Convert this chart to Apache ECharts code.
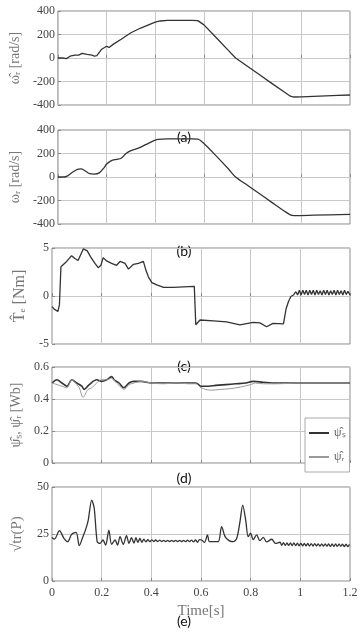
<!DOCTYPE html>
<html lang="en">
	<head>
		<meta charset="UTF-8" />
		<title>Simulation results</title>
		<script src="https://cdn.jsdelivr.net/npm/echarts@6.0.0/dist/echarts.min.js"></script>
		<style>
			html, body { margin: 0; padding: 0; background: #fff; }
		</style>
	</head>
	<body>
		<div id="main" style="width: 363px; height: 633px"></div>
		<script type="text/javascript">
			// (a) estimated speed
			const tSpeedEst = [0, 0.02, 0.035, 0.05, 0.07, 0.085, 0.1, 0.105, 0.12, 0.14, 0.15, 0.16, 0.18, 0.2, 0.21, 0.23, 0.26, 0.3, 0.34, 0.37, 0.4, 0.42, 0.45, 0.5, 0.55, 0.575, 0.6, 0.65, 0.7, 0.73, 0.78, 0.83, 0.88, 0.93, 0.955, 0.97, 1.0, 1.05, 1.1, 1.15, 1.2];
			const speedEst = [0, 0, -5, 15, 25, 25, 40, 50, 30, 25, 15, 20, 75, 100, 90, 120, 160, 215, 255, 280, 305, 315, 320, 320, 320, 318, 282, 175, 65, 0, -72, -145, -218, -290, -325, -332, -330, -326, -322, -318, -315];

			// (b) actual speed
			const tSpeed = [0, 0.025, 0.04, 0.06, 0.08, 0.095, 0.11, 0.13, 0.15, 0.17, 0.19, 0.2, 0.22, 0.24, 0.26, 0.28, 0.3, 0.33, 0.36, 0.39, 0.41, 0.45, 0.5, 0.55, 0.575, 0.6, 0.65, 0.7, 0.73, 0.78, 0.83, 0.88, 0.93, 0.955, 0.97, 1.05, 1.2];
			const speed = [0, 0, 10, 40, 65, 70, 55, 28, 25, 35, 80, 110, 140, 150, 160, 200, 225, 245, 275, 305, 320, 325, 325, 325, 322, 285, 180, 70, 0, -72, -145, -218, -290, -322, -328, -325, -318];

			// (c) electromagnetic torque
			const tTorque = [0, 0.01, 0.024, 0.03, 0.036, 0.059, 0.079, 0.092, 0.105, 0.126, 0.142, 0.155, 0.173, 0.186, 0.197, 0.206, 0.22, 0.24, 0.26, 0.274, 0.294, 0.308, 0.328, 0.348, 0.368, 0.378, 0.388, 0.402, 0.422, 0.449, 0.489, 0.53, 0.573, 0.579, 0.596, 0.65, 0.703, 0.757, 0.81, 0.837, 0.864, 0.89, 0.932, 0.943, 0.952, 0.962, 0.972, 0.982, 0.989, 0.996, 1.003, 1.01, 1.017, 1.024, 1.031, 1.038, 1.045, 1.052, 1.059, 1.066, 1.073, 1.08, 1.087, 1.094, 1.101, 1.108, 1.115, 1.122, 1.129, 1.136, 1.143, 1.15, 1.157, 1.164, 1.171, 1.178, 1.185, 1.192, 1.2];
			const torque = [-1.1, -1.4, -1.6, -0.9, 3.05, 3.6, 4.2, 3.9, 3.7, 4.9, 4.7, 4.1, 3.4, 2.95, 3.2, 4.0, 3.65, 3.4, 3.2, 3.6, 3.4, 2.8, 3.3, 3.4, 3.6, 2.7, 2.0, 1.4, 1.15, 0.9, 0.9, 0.95, 1.0, -3.0, -2.5, -2.6, -2.7, -3.0, -2.75, -2.8, -3.2, -2.85, -2.9, -1.3, -0.6, -0.05, 0.1, 0.45, 0.1, 0.6, 0.1, 0.6, 0.15, 0.6, 0.1, 0.6, 0.15, 0.6, 0.1, 0.6, 0.15, 0.55, 0.1, 0.6, 0.15, 0.6, 0.1, 0.55, 0.15, 0.6, 0.1, 0.6, 0.15, 0.55, 0.1, 0.6, 0.15, 0.5, 0.1];

			// (d) estimated fluxes
			const tFluxS = [0, 0.02, 0.04, 0.06, 0.08, 0.1, 0.12, 0.13, 0.15, 0.18, 0.2, 0.22, 0.24, 0.25, 0.27, 0.29, 0.31, 0.33, 0.36, 0.4, 0.45, 0.5, 0.55, 0.58, 0.6, 0.63, 0.66, 0.7, 0.74, 0.78, 0.81, 0.85, 0.9, 1.0, 1.1, 1.2];
			const fluxS = [0.5, 0.52, 0.5, 0.48, 0.52, 0.5, 0.48, 0.46, 0.49, 0.52, 0.51, 0.52, 0.54, 0.52, 0.5, 0.47, 0.5, 0.51, 0.51, 0.5, 0.5, 0.5, 0.5, 0.5, 0.48, 0.48, 0.485, 0.49, 0.495, 0.5, 0.51, 0.505, 0.5, 0.5, 0.5, 0.5];
			const tFluxR = [0, 0.02, 0.04, 0.06, 0.08, 0.1, 0.11, 0.125, 0.145, 0.16, 0.18, 0.2, 0.22, 0.24, 0.26, 0.28, 0.29, 0.31, 0.33, 0.36, 0.4, 0.45, 0.5, 0.55, 0.58, 0.6, 0.64, 0.68, 0.72, 0.76, 0.8, 0.82, 0.85, 0.9, 1.0, 1.1, 1.2];
			const fluxR = [0.5, 0.49, 0.48, 0.47, 0.52, 0.49, 0.47, 0.41, 0.46, 0.47, 0.5, 0.52, 0.52, 0.53, 0.5, 0.47, 0.46, 0.49, 0.5, 0.51, 0.5, 0.495, 0.5, 0.495, 0.495, 0.47, 0.455, 0.46, 0.465, 0.475, 0.49, 0.5, 0.495, 0.495, 0.5, 0.5, 0.5];

			// (e) sqrt of covariance trace
			const tTrace = [0, 0.01, 0.03, 0.048, 0.063, 0.079, 0.097, 0.11, 0.123, 0.137, 0.146, 0.16, 0.17, 0.182, 0.193, 0.205, 0.216, 0.229, 0.24, 0.254, 0.264, 0.274, 0.287, 0.3, 0.31, 0.32, 0.33, 0.338, 0.346, 0.354, 0.362, 0.37, 0.378, 0.386, 0.394, 0.402, 0.41, 0.418, 0.426, 0.434, 0.442, 0.45, 0.458, 0.466, 0.474, 0.482, 0.49, 0.498, 0.506, 0.514, 0.522, 0.53, 0.538, 0.546, 0.554, 0.562, 0.57, 0.578, 0.586, 0.594, 0.603, 0.614, 0.626, 0.634, 0.65, 0.67, 0.683, 0.697, 0.713, 0.73, 0.744, 0.757, 0.768, 0.78, 0.79, 0.8, 0.81, 0.824, 0.837, 0.851, 0.864, 0.885, 0.9, 0.918, 0.925, 0.932, 0.939, 0.946, 0.953, 0.96, 0.967, 0.974, 0.981, 0.988, 0.995, 1.002, 1.009, 1.016, 1.023, 1.03, 1.037, 1.044, 1.051, 1.058, 1.065, 1.072, 1.079, 1.086, 1.093, 1.1, 1.107, 1.114, 1.121, 1.128, 1.135, 1.142, 1.149, 1.156, 1.163, 1.17, 1.177, 1.184, 1.191, 1.198];
			const trace = [23.2, 22.3, 26.8, 22.7, 20.9, 24.8, 25.9, 18.8, 23.0, 28.0, 32.4, 43.0, 38.7, 20.9, 20.0, 21.8, 19.1, 27.1, 19.5, 21.8, 19.1, 23.6, 19.5, 24.1, 20.0, 23.0, 20.2, 23.0, 20.5, 22.6, 20.6, 22.3, 20.8, 22.0, 20.9, 21.9, 21.0, 21.8, 21.0, 21.7, 21.0, 21.6, 21.0, 21.6, 21.0, 21.6, 21.0, 21.6, 21.0, 21.6, 20.9, 21.6, 20.9, 21.7, 21.0, 21.7, 20.8, 21.8, 20.6, 22.0, 21.8, 20.5, 24.5, 20.9, 20.9, 21.0, 28.9, 23.6, 21.5, 20.9, 22.7, 31.6, 40.4, 32.4, 23.6, 25.4, 22.0, 24.5, 21.5, 23.2, 20.8, 22.2, 20.0, 20.6, 19.0, 20.4, 18.9, 20.3, 18.9, 20.2, 18.8, 20.2, 18.8, 20.1, 18.7, 20.1, 18.7, 20.0, 18.7, 20.0, 18.6, 19.9, 18.6, 19.9, 18.6, 19.8, 18.5, 19.8, 18.5, 19.8, 18.5, 19.7, 18.4, 19.7, 18.4, 19.7, 18.4, 19.6, 18.4, 19.6, 18.3, 19.6, 18.3, 19.5, 18.5];

			const zip = (t, v) => t.map((x, i) => [x, v[i]]);

			const tickFont = { fontFamily: "Liberation Serif", fontSize: 12, color: "#444" };
			const nameFont = { fontFamily: "Liberation Serif", fontSize: 14, color: "#777" };

			const grids = [
				{ left: 52, right: 13, top: 11, height: 94 },
				{ left: 52, right: 13, top: 130, height: 94 },
				{ left: 52, right: 13, top: 248, height: 96 },
				{ left: 52, right: 13, top: 367, height: 96 },
				{ left: 52, right: 13, top: 487, height: 94 },
			].map((g) => ({ ...g, show: true, borderColor: "#888", borderWidth: 1 }));

			const xAxes = grids.map((g, i) => ({
				type: "value",
				gridIndex: i,
				min: 0,
				max: 1.2,
				interval: 0.2,
				axisLine: { show: false },
				axisTick: { show: true, inside: true, length: 3, lineStyle: { color: "#888" } },
				splitLine: { show: true, lineStyle: { color: "#c8c8c8", width: 1 } },
				axisLabel: { show: i === 4, ...tickFont, margin: 6 },
				name: i === 4 ? "Time[s]" : "",
				nameLocation: "middle",
				nameGap: 23,
				nameTextStyle: { ...nameFont, fontSize: 15 },
			}));

			const yCfg = [
				{ min: -400, max: 400, interval: 200, name: "ω̂ᵣ [rad/s]", gap: 34 },
				{ min: -400, max: 400, interval: 200, name: "ωᵣ [rad/s]", gap: 34 },
				{ min: -5, max: 5, interval: 5, name: "T̂ₑ [Nm]", gap: 22, size: 16 },
				{ min: 0, max: 0.6, interval: 0.2, name: "ψ̂ₛ, ψ̂ᵣ [Wb]", gap: 28 },
				{ min: 0, max: 50, interval: 25, name: "√tr(P)", gap: 27, size: 15 },
			];
			const yAxes = yCfg.map((c, i) => ({
				type: "value",
				gridIndex: i,
				min: c.min,
				max: c.max,
				interval: c.interval,
				axisLine: { show: false },
				axisTick: { show: true, inside: true, length: 3, lineStyle: { color: "#888" } },
				splitLine: { show: true, lineStyle: { color: "#c8c8c8", width: 1 } },
				axisLabel: { ...tickFont, margin: 3 },
				name: c.name,
				nameLocation: "middle",
				nameRotate: 90,
				nameGap: c.gap,
				nameTextStyle: { ...nameFont, fontSize: c.size || 14 },
			}));

			const line = (name, idx, data, color, width, smooth) => ({
				name,
				type: "line",
				xAxisIndex: idx,
				yAxisIndex: idx,
				data,
				symbol: "none",
				smooth: smooth || false,
				silent: true,
				animation: false,
				lineStyle: { color, width },
				itemStyle: { color },
			});

			const labels = [
				["(a)", 137],
				["(b)", 251],
				["(c)", 366],
				["(d)", 478],
				["(e)", 621],
			].map(([text, y]) => ({
				type: "text",
				x: 184,
				y,
				style: { text, fontFamily: "Lato", fontSize: 14, fill: "#111", textAlign: "center", textVerticalAlign: "middle" },
			}));

			const chart = echarts.init(document.getElementById("main"));
			chart.setOption({
				animation: false,
				grid: grids,
				xAxis: xAxes,
				yAxis: yAxes,
				legend: {
					data: [
						{ name: "ψ̂ₛ", icon: "rect" },
						{ name: "ψ̂ᵣ", icon: "rect" },
					],
					orient: "vertical",
					left: 305,
					top: 418,
					itemWidth: 20,
					itemHeight: 2,
					itemGap: 12,
					padding: [9, 4, 9, 4],
					backgroundColor: "#fff",
					borderColor: "#aaa",
					borderWidth: 1,
					borderRadius: 0,
					textStyle: { fontFamily: "Liberation Serif", fontSize: 12, color: "#666" },
				},
				graphic: labels,
				series: [
					line("speedEst", 0, zip(tSpeedEst, speedEst), "#333", 1.3),
					line("speed", 1, zip(tSpeed, speed), "#333", 1.3, 0.3),
					line("torque", 2, zip(tTorque, torque), "#333", 1.3),
					line("ψ̂ₛ", 3, zip(tFluxS, fluxS), "#333", 1.6, 0.3),
					line("ψ̂ᵣ", 3, zip(tFluxR, fluxR), "#999", 1, 0.3),
					line("trace", 4, zip(tTrace, trace), "#333", 1.3, 0.3),
				],
			});
		</script>
	</body>
</html>
